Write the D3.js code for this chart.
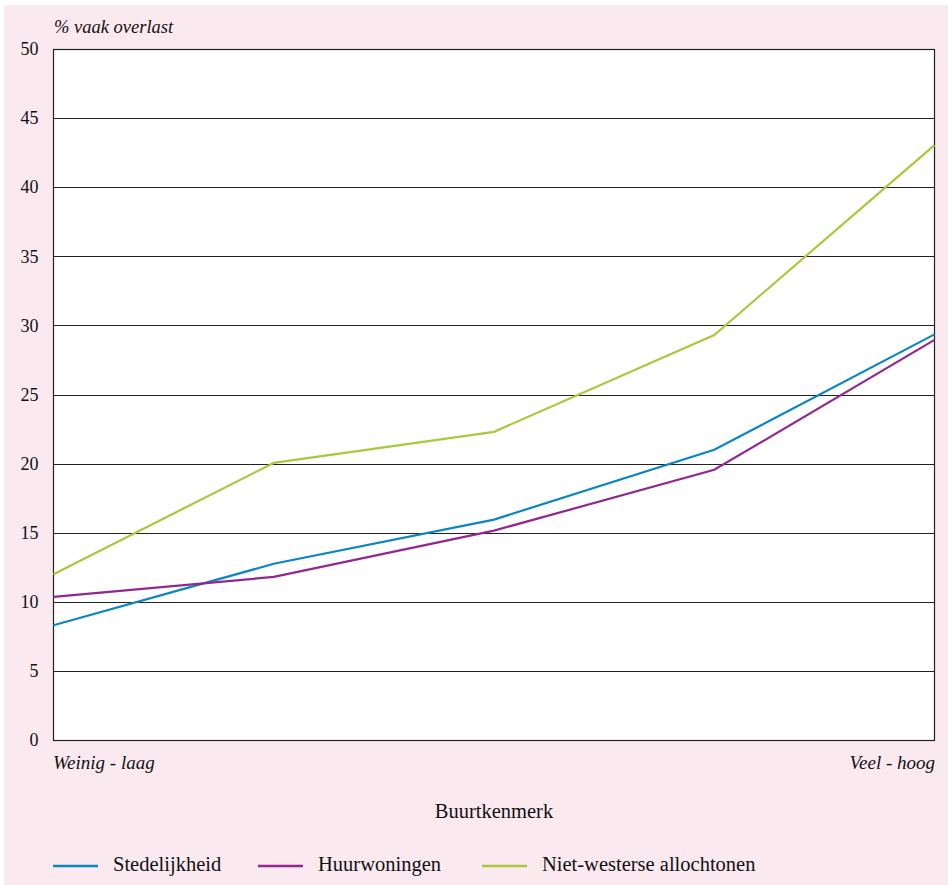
<!DOCTYPE html>
<html><head><meta charset="utf-8">
<script src="https://cdn.jsdelivr.net/npm/d3@7"></script>
<style>body{margin:0;background:#fff}svg{display:block}</style>
</head><body>
<script>
const categories = [1, 2, 3, 4, 5];
const seriesNames = ["Stedelijkheid", "Huurwoningen", "Niet-westerse allochtonen"];
const stedelijkheid = [8.3, 12.75, 15.95, 21.0, 29.35];
const huurwoningen = [10.35, 11.8, 15.15, 19.55, 28.95];
const nietWesters = [12.0, 20.05, 22.3, 29.3, 43.05];
const yTicks = [0, 5, 10, 15, 20, 25, 30, 35, 40, 45, 50];
const colors = ["#0a86c1", "#93278f", "#a8c93a"];

const W = 948, H = 885;
const svg = d3.select("body").append("svg").attr("width", W).attr("height", H);
svg.append("rect").attr("x", 4).attr("y", 5).attr("width", W - 4).attr("height", H - 5).attr("fill", "#fbe9f0");

const x = d3.scaleLinear().domain([1, 5]).range([53.5, 934.5]);
const y = d3.scaleLinear().domain([0, 50]).range([740, 49]);

svg.append("rect").attr("x", x(1)).attr("y", y(50)).attr("width", x(5) - x(1)).attr("height", y(0) - y(50)).attr("fill", "#fff");

// grid
svg.append("g").selectAll("line").data(yTicks).join("line")
  .attr("x1", x(1)).attr("x2", x(5))
  .attr("y1", d => Math.round(y(d)) + 0.5).attr("y2", d => Math.round(y(d)) + 0.5)
  .attr("stroke", "#222").attr("stroke-width", 1.2);

// frame
svg.append("rect").attr("x", x(1)).attr("y", Math.round(y(50)) + 0.5).attr("width", x(5) - x(1)).attr("height", Math.round(y(0)) - Math.round(y(50)))
  .attr("fill", "none").attr("stroke", "#222").attr("stroke-width", 1.2);

const font = "Liberation Serif, serif";

// y axis labels
const yAxis = d3.axisLeft(y).tickValues(yTicks).tickSize(0).tickPadding(15);
const ga = svg.append("g").attr("transform", `translate(${x(1)},0)`).call(yAxis);
ga.select(".domain").remove();
ga.selectAll("text").attr("font-family", font).attr("font-size", 18).attr("fill", "#111");

svg.append("text").attr("x", 54).attr("y", 33).attr("font-family", font).attr("font-style", "italic").attr("font-size", 18.5).attr("fill", "#111").text("% vaak overlast");
svg.append("text").attr("x", 53).attr("y", 769).attr("font-family", font).attr("font-style", "italic").attr("font-size", 19).attr("fill", "#111").text("Weinig - laag");
svg.append("text").attr("x", 935).attr("y", 769).attr("text-anchor", "end").attr("font-family", font).attr("font-style", "italic").attr("font-size", 19).attr("fill", "#111").text("Veel - hoog");
svg.append("text").attr("x", 494).attr("y", 818).attr("text-anchor", "middle").attr("font-family", font).attr("font-size", 20.5).attr("fill", "#111").text("Buurtkenmerk");

const data = [stedelijkheid, huurwoningen, nietWesters];
const line = d3.line().x((d, i) => x(categories[i])).y(d => y(d));
svg.append("g").selectAll("path").data(data).join("path")
  .attr("d", line).attr("fill", "none").attr("stroke", (d, i) => colors[i]).attr("stroke-width", 2.2);

// legend
const legX = [53, 258, 482];
const lg = svg.append("g").selectAll("g").data(seriesNames).join("g").attr("transform", (d, i) => `translate(${legX[i]},866)`);
lg.append("line").attr("x1", 0).attr("x2", 45).attr("stroke", (d, i) => colors[i]).attr("stroke-width", 2.5);
lg.append("text").attr("x", 60).attr("y", 5).attr("font-family", font).attr("font-size", 20.5).attr("fill", "#111").text(d => d);
</script>
</body></html>
